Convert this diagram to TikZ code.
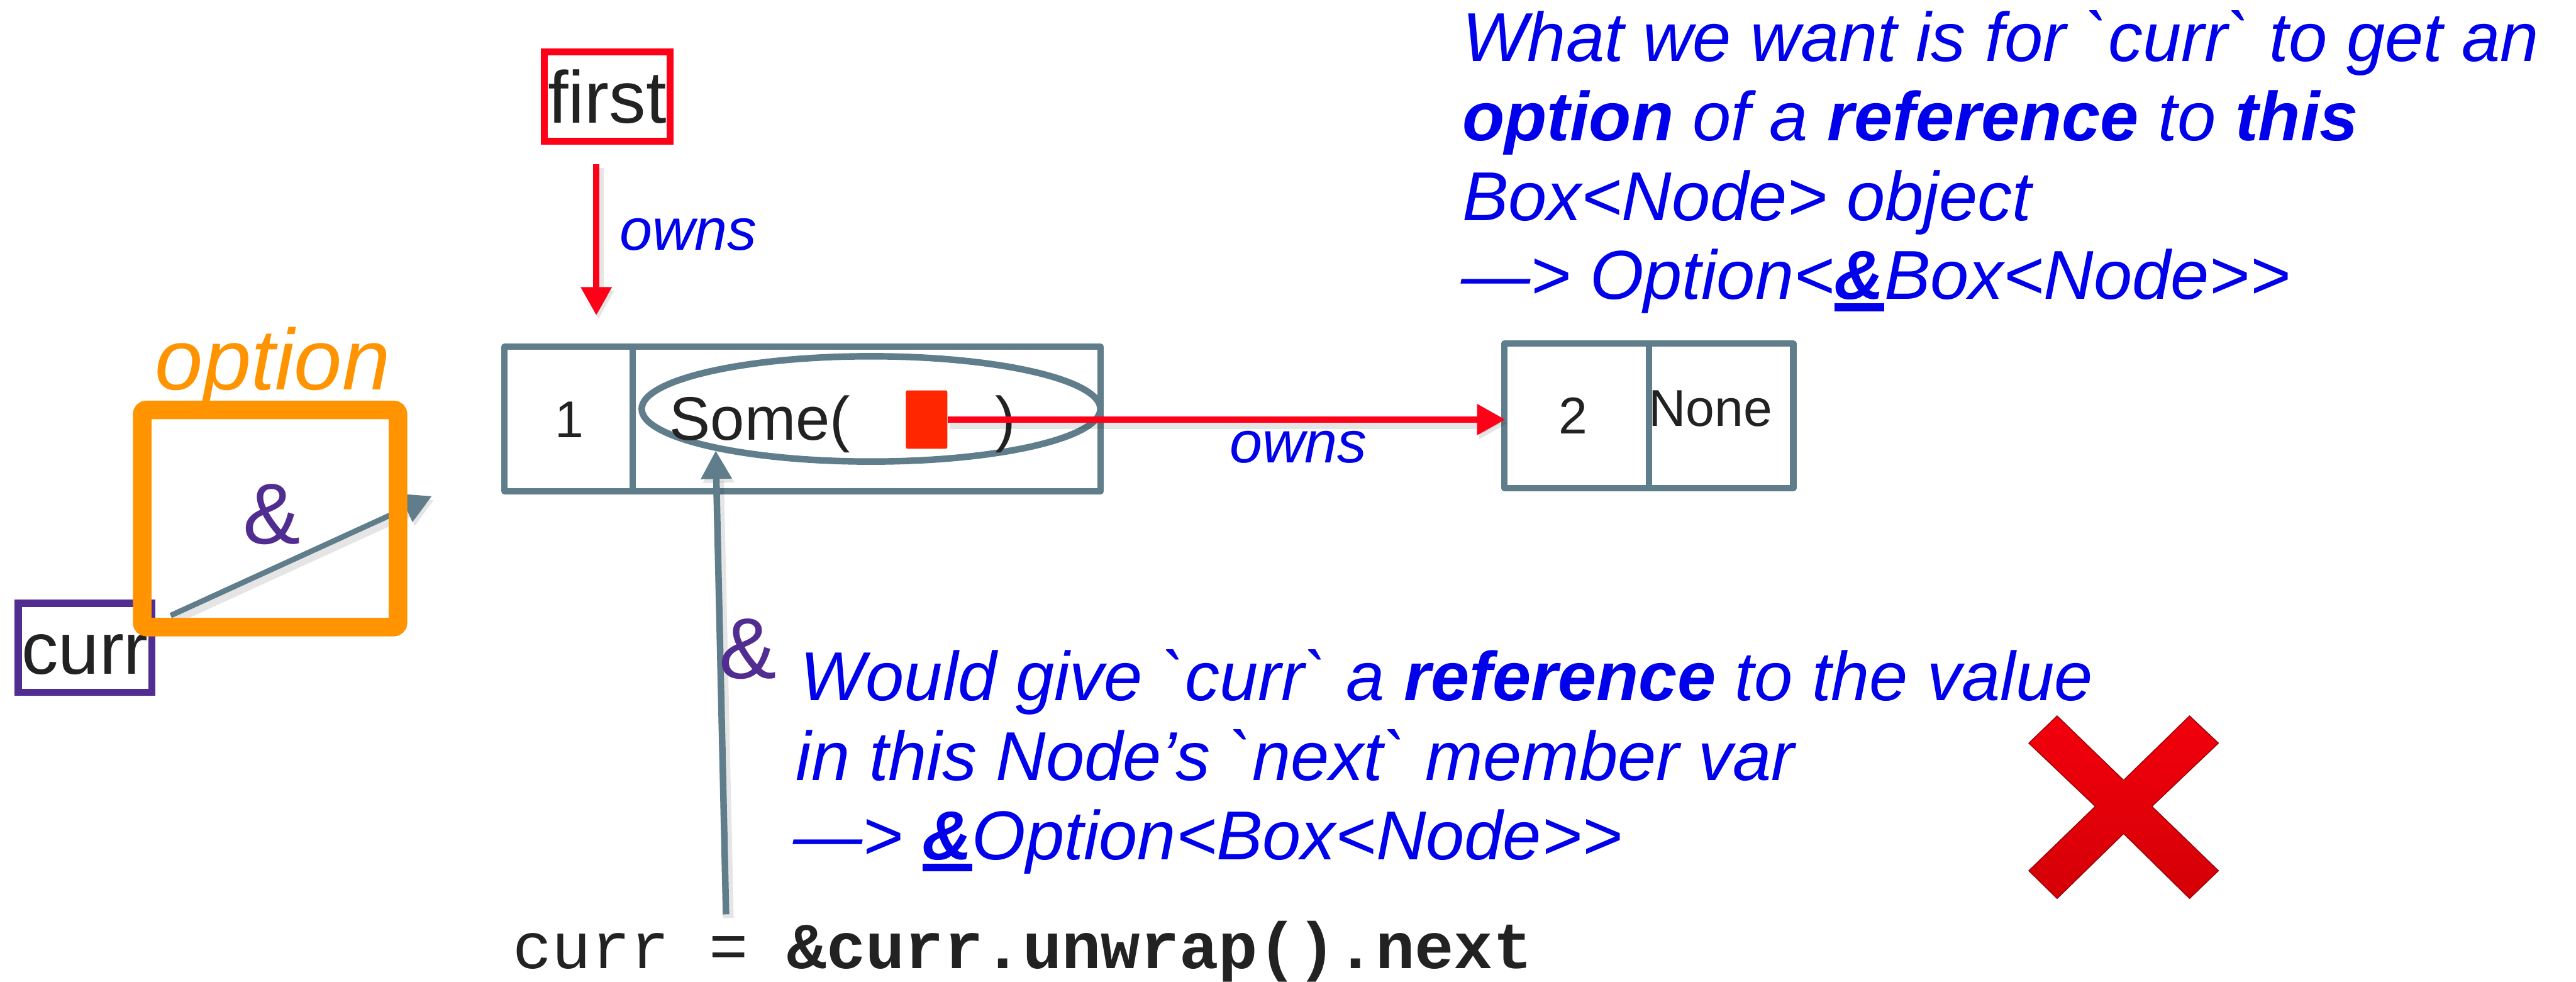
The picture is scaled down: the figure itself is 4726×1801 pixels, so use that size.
\documentclass[tikz,border=0pt]{standalone}
\usepackage{fontspec}
\newfontfamily\arial{Liberation Sans}
\newfontfamily\mono{Liberation Mono}
\usetikzlibrary{arrows.meta,shapes.geometric}

\definecolor{steel}{RGB}{96,125,139}
\definecolor{ownred}{RGB}{255,0,25}
\definecolor{ptrred}{RGB}{255,38,0}
\definecolor{optorange}{RGB}{255,147,0}
\definecolor{refpurple}{RGB}{81,45,145}
\definecolor{noteblue}{RGB}{0,0,235}
\definecolor{ink}{RGB}{34,34,34}
\definecolor{xtop}{RGB}{242,0,12}
\definecolor{xbot}{RGB}{212,0,6}

% bold ampersand with a heavy underline
\newcommand\ulamp{\setbox0=\hbox{\bfseries\&}\rlap{\rule[-0.17em]{\wd0}{0.11em}}\box0}

\begin{document}
\begin{tikzpicture}[x=0.01cm, y=-0.01cm,
  cell/.style={draw=steel, line width=0.12cm, line join=round, minimum height=2.65cm, inner sep=0pt},
  tag/.style={line width=0.13cm, inner sep=0pt, text height=27.6pt, text depth=0pt,
    font=\fontsize{38.4}{46}\selectfont\arial, text=ink},
  val/.style={inner sep=0pt, text=ink, font=\fontsize{27}{32}\selectfont\arial},
  note/.style={anchor=base west, inner sep=0pt, text=noteblue,
    font=\fontsize{36.1}{43}\selectfont\arial\itshape},
  ownslbl/.style={anchor=base west, inner sep=0pt, text=noteblue,
    font=\fontsize{30.7}{36}\selectfont\arial\itshape},
  amp/.style={anchor=base, inner sep=0pt, text=refpurple, font=\fontsize{45}{54}\selectfont\arial},
  softshadow/.style={preaction={draw=black, opacity=0.10, line width=0.2cm,
    transform canvas={shift={(0.04cm,-0.07cm)}}}},
  ownarrow/.style={softshadow, draw=ownred, line width=0.12cm, -{Triangle[width=0.54cm,length=0.52cm]}},
  refarrow/.style={softshadow, draw=steel, line width=0.12cm, -{Triangle[width=0.54cm,length=0.52cm]}},
]
\useasboundingbox (0,0) rectangle (4726,1801);

% ---- owner variable and the first node ----
\node[tag, draw=ownred, minimum width=2.30cm, minimum height=1.64cm] (first) at (1114,177) {first};

\node[cell, minimum width=10.93cm] (n1) at (1472.5,768.5) {};
\draw[steel, line width=0.12cm] ([xshift=2.41cm]n1.north west) -- ([xshift=2.41cm]n1.south west);
\node[val, anchor=base] (v1) at (1045,802) {1};
\node[draw=steel, line width=0.12cm, ellipse, minimum width=8.41cm, minimum height=1.93cm, inner sep=0pt] (some) at (1598,750) {};
\node[anchor=base west, inner sep=0pt, text=ink, font=\fontsize{32}{38}\selectfont\arial] (sometxt) at (1228,807) {Some(};
\node[anchor=base west, inner sep=0pt, text=ink, font=\fontsize{32}{38}\selectfont\arial] (close) at (1825,807) {)};
\node[fill=ptrred, minimum width=0.76cm, minimum height=1.07cm, rounded corners=0.03cm, inner sep=0pt] (ptr) at (1700,769.5) {};

% ---- second node ----
\node[cell, minimum width=5.30cm] (n2) at (3025,762.5) {};
\draw[steel, line width=0.12cm] (n2.north) -- (n2.south);
\node[val, anchor=base] (v2) at (2886,795) {2};
\node[val, anchor=base west] (none) at (3024,782) {None};

% ---- ownership arrows ----
\draw[ownarrow] ([xshift=-0.2cm,yshift=-0.36cm]first.south) -- ++(0,277);
\node[ownslbl] (owns1) at (1136,459) {owns};
\draw[ownarrow] (ptr.east) -- ([xshift=0.08cm]ptr.east -| n2.west);
\node[ownslbl] (owns2) at (2255,849) {owns};

% ---- curr and its option box ----
\node[tag, draw=refpurple, minimum width=2.45cm, minimum height=1.63cm] (curr) at (156,1188) {curr};
\node[outer sep=0pt, inner sep=0pt, minimum width=4.69cm, minimum height=3.98cm] (opt) at (495.5,951) {};
\draw[refarrow, line width=0.1cm] ([xshift=0.28cm,yshift=-0.29cm]curr.north east) -- ([xshift=0.62cm,yshift=0.41cm]opt.east);
% the orange frame sits over the arrow shaft
\draw[optorange, line width=0.34cm, rounded corners=0.08cm] (opt.north west) rectangle (opt.south east);
\node[amp] (amp1) at (499,998) {\&};
\node[anchor=base west, inner sep=0pt, text=optorange, font=\fontsize{45}{54}\selectfont\arial\itshape] (optlbl) at (284,715) {option};

% ---- reference into the Some(...) value ----
\coordinate (refTail) at (1332,1677);
\draw[refarrow] (refTail) -- (some.195);
\node[amp] (amp2) at (1372,1244) {\&};

% ---- notes ----
\node[note] (w1) at (2682,113) {What we want is for `curr` to get an};
\node[note] (w2) at (2682,258) {\textbf{option} of a \textbf{reference} to \textbf{this}};
\node[note] (w3) at (2682,404) {Box<Node> object};
\node[note] (w4) at (2680,549) {—> Option<\ulamp Box<Node>>};

\node[note] (g1) at (1468,1285) {Would give `curr` a \textbf{reference} to the value};
\node[note] (g2) at (1460,1431) {in this Node’s `next` member var};
\node[note] (g3) at (1455,1577) {—> \ulamp Option<Box<Node>>};

\node[anchor=base west, inner sep=0pt, text=ink, font=\fontsize{34.1}{40}\selectfont\mono] (code) at (940,1776) {curr = \textbf{\&curr.unwrap().next}};

% ---- red cross ----
\shade[top color=xtop, bottom color=xbot, draw=xbot!70!black, line width=0.015cm, line join=miter]
  (3722,1363) -- (3774,1313) -- (3896,1431) -- (4017,1313) -- (4070,1363) -- (3948,1479)
  -- (4070,1597) -- (4017,1648) -- (3896,1529) -- (3774,1648) -- (3722,1597) -- (3844,1479) -- cycle;
\end{tikzpicture}
\end{document}
